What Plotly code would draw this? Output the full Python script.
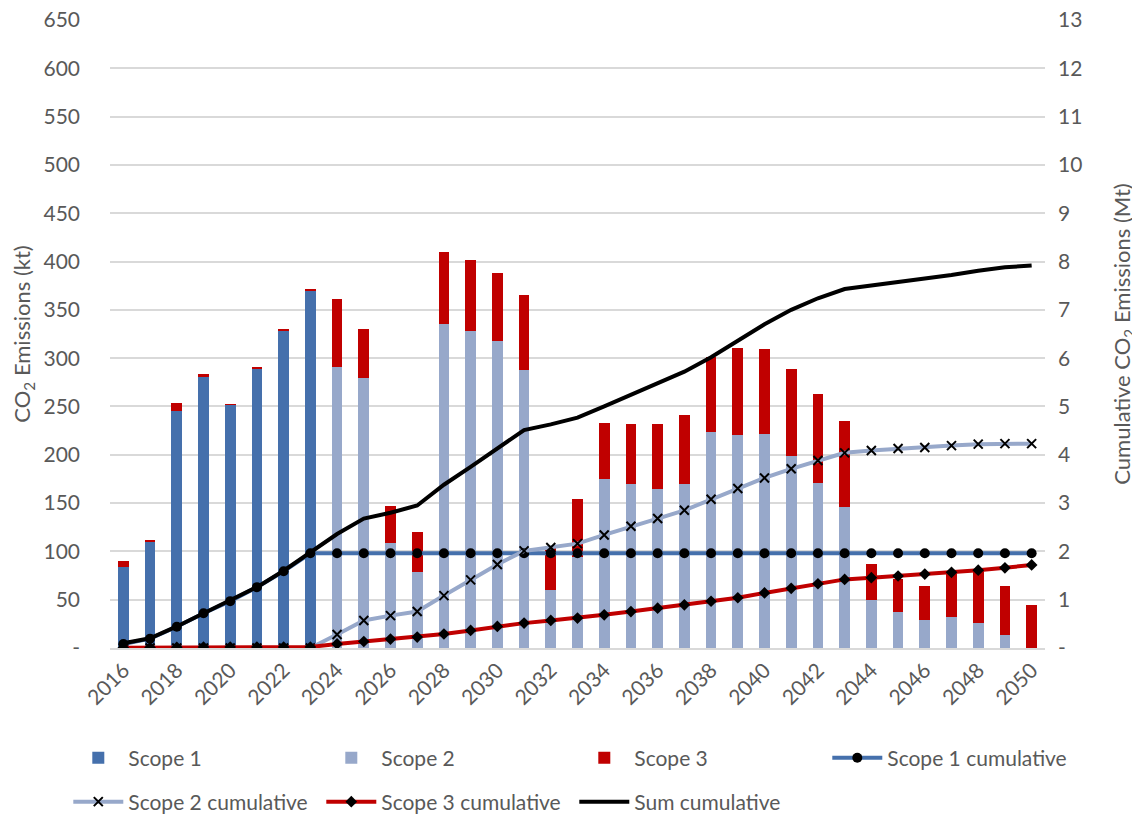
import plotly.graph_objects as go

# ---- data ----
years = list(range(2016, 2051))

scope1 = [84, 110, 245, 281.5, 252, 289, 328.5, 370] + [0] * 27
scope2 = [0] * 8 + [291, 279, 109, 79, 335, 328.5, 317.5, 288, 60, 94, 175, 170, 164.5, 170,
                    224, 220, 222, 199, 170.5, 146, 50, 37, 29, 32, 26, 13, 0]
scope3 = [6, 1, 9, 2, 0.5, 1, 2, 1, 70, 51.5, 38, 41, 75, 73, 71, 77, 46, 60, 58, 62, 67.5, 71,
          77, 90, 87, 90, 92, 89, 37, 34, 35, 48, 56, 51, 45]

# cumulative values in Mt (right axis)
scope1_cum = [0.084, 0.194, 0.44, 0.72, 0.97, 1.26, 1.59, 1.96] + [1.96] * 27
scope2_cum = [0] * 8 + [0.28, 0.57, 0.67, 0.755, 1.085, 1.41, 1.73, 2.01, 2.08, 2.16, 2.34, 2.52,
                        2.68, 2.85, 3.08, 3.30, 3.52, 3.71, 3.88, 4.04, 4.09, 4.13, 4.15, 4.19,
                        4.22, 4.23, 4.23]
scope3_cum = [0.005, 0.01, 0.015, 0.02, 0.02, 0.02, 0.02, 0.02, 0.085, 0.135, 0.185, 0.227, 0.29,
              0.364, 0.446, 0.515, 0.57, 0.62, 0.687, 0.755, 0.824, 0.893, 0.968, 1.04, 1.14,
              1.236, 1.33, 1.42, 1.456, 1.49, 1.53, 1.566, 1.61, 1.66, 1.72]
sum_cum = [0.10, 0.20, 0.446, 0.72, 0.975, 1.26, 1.60, 1.97, 2.36, 2.68, 2.80, 2.95, 3.38, 3.75,
           4.13, 4.51, 4.63, 4.77, 5.0, 5.24, 5.46, 5.72, 6.02, 6.35, 6.70, 7.0, 7.24, 7.43,
           7.50, 7.57, 7.64, 7.72, 7.81, 7.88, 7.92]

left_ticks = list(range(0, 651, 50))
left_labels = ['-'] + [str(v) for v in left_ticks[1:]]
right_ticks = list(range(0, 14))
right_labels = ['-'] + [str(v) for v in right_ticks[1:]]
year_ticks = list(range(2016, 2051, 2))

# colours
c_s1 = '#4570AC'
c_s2 = '#97A8CA'
c_s3 = '#C00000'
grey = '#595959'
font_family = 'Lato, Open Sans, sans-serif'

fig = go.Figure()

# stacked bars
fig.add_trace(go.Bar(x=years, y=scope1, name='Scope 1', marker_color=c_s1, marker_line_width=0))
fig.add_trace(go.Bar(x=years, y=scope2, name='Scope 2', marker_color=c_s2, marker_line_width=0))
fig.add_trace(go.Bar(x=years, y=scope3, name='Scope 3', marker_color=c_s3, marker_line_width=0))

# cumulative lines on right axis
fig.add_trace(go.Scatter(
    x=years, y=scope1_cum, name='Scope 1 cumulative', yaxis='y2', mode='lines+markers',
    line=dict(color=c_s1, width=4),
    marker=dict(symbol='circle', size=10, color='black')
))
fig.add_trace(go.Scatter(
    x=years, y=scope2_cum, name='Scope 2 cumulative', yaxis='y2', mode='lines+markers',
    line=dict(color=c_s2, width=4),
    marker=dict(symbol='x-thin', size=9, color='black', line=dict(color='black', width=2)),
    legend='legend2'
))
fig.add_trace(go.Scatter(
    x=years, y=scope3_cum, name='Scope 3 cumulative', yaxis='y2', mode='lines+markers',
    line=dict(color=c_s3, width=4),
    marker=dict(symbol='diamond', size=9, color='black'),
    legend='legend2'
))
fig.add_trace(go.Scatter(
    x=years, y=sum_cum, name='Sum cumulative', yaxis='y2', mode='lines',
    line=dict(color='black', width=4),
    legend='legend2'
))

legend_style = dict(
    orientation='h',
    x=-0.0446, xanchor='left', yanchor='middle',
    entrywidth=188, entrywidthmode='pixels',
    font=dict(size=21, color=grey), itemwidth=50,
    traceorder='normal',
    bgcolor='rgba(0,0,0,0)',
)

# the page body adds an 8px offset, so the figure is 8px smaller than the window
fig.update_layout(
    template='none',
    width=1132, height=808,
    barmode='stack',
    bargap=0.6,
    plot_bgcolor='white',
    paper_bgcolor='white',
    font=dict(family=font_family, size=20, color=grey),
    margin=dict(l=102, r=95, t=12, b=168, autoexpand=False),
    xaxis=dict(
        range=[2015.5, 2050.5],
        tickvals=year_ticks,
        tickangle=-45,
        showgrid=False,
        showline=True, linecolor='#D9D9D9', linewidth=1.5,
        ticks='', automargin=False,
        tickfont=dict(size=21, color=grey),
    ),
    yaxis=dict(
        range=[0, 650],
        tickvals=left_ticks, ticktext=left_labels,
        showgrid=True, gridcolor='#D9D9D9', gridwidth=1.5,
        zeroline=False, showline=False, ticks='', automargin=False,
        ticklabelstandoff=29, ticklabeloverflow='allow',
        tickfont=dict(size=21, color=grey),
        title=dict(text='CO<sub>2</sub> Emissions (kt)', font=dict(size=22, color=grey), standoff=16),
    ),
    yaxis2=dict(
        range=[0, 13],
        overlaying='y', side='right',
        tickvals=right_ticks, ticktext=right_labels,
        showgrid=False, zeroline=False, showline=False, ticks='', automargin=False,
        ticklabelstandoff=12, ticklabeloverflow='allow',
        tickfont=dict(size=21, color=grey),
        title=dict(text='Cumulative CO<sub>2</sub> Emissions (Mt)', font=dict(size=22, color=grey), standoff=33),
    ),
    legend=dict(legend_style, y=-0.1752),
    legend2=dict(legend_style, y=-0.2452),
)

fig.write_html('out.html')
